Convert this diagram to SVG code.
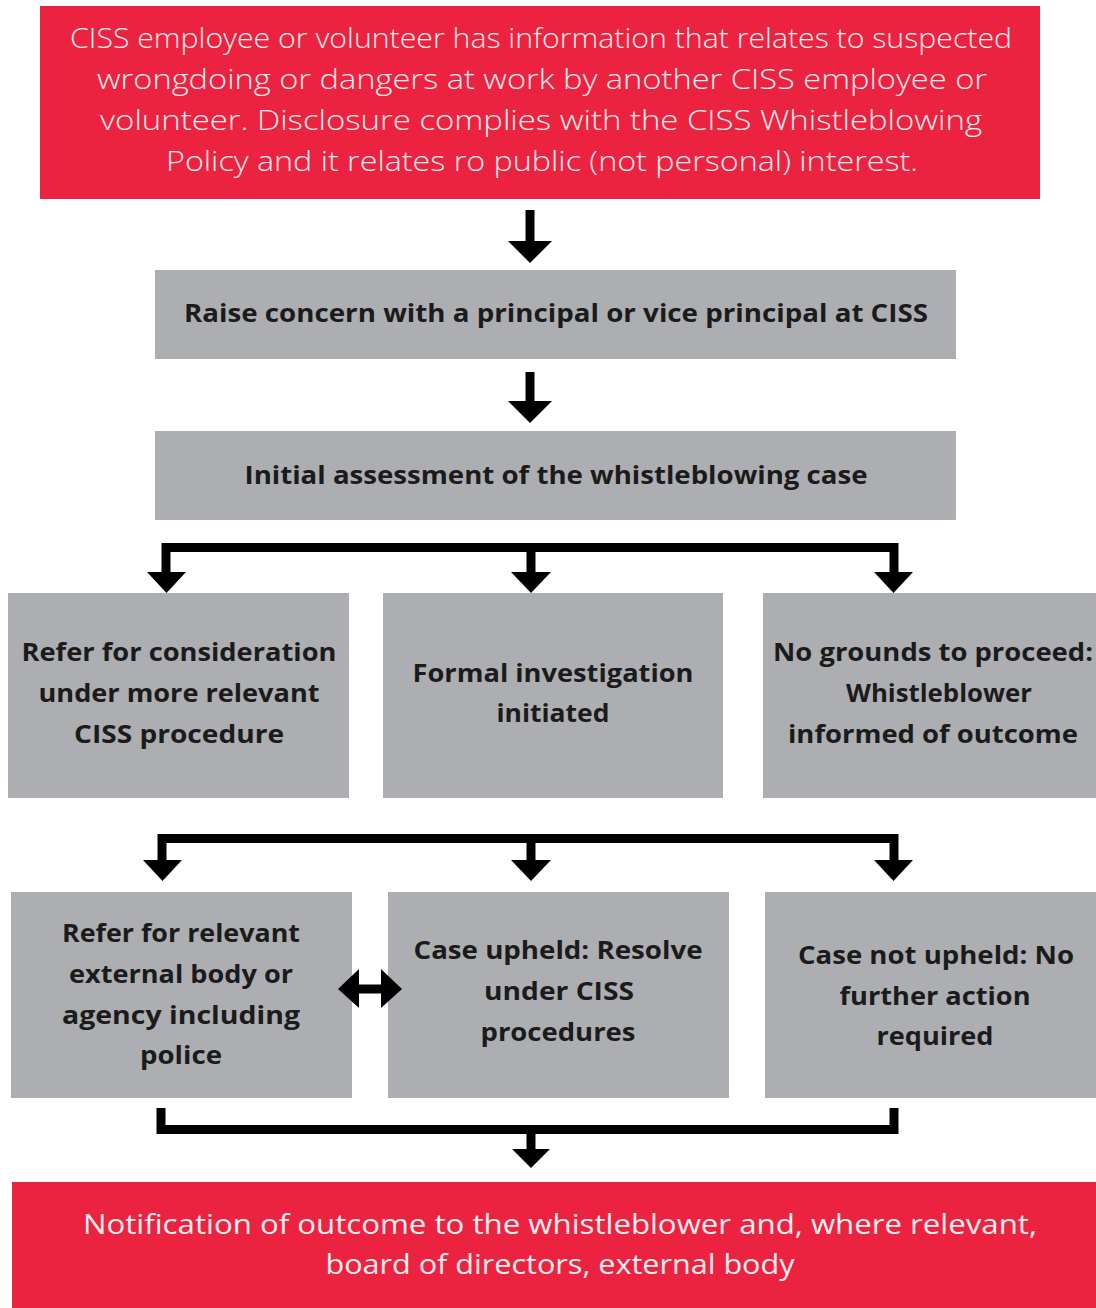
<svg xmlns="http://www.w3.org/2000/svg" width="1096" height="1308" viewBox="0 0 1096 1308">
  <style>
    .red { fill: #ec2340; }
    .grey { fill: #adaeb1; }
    .light { font-family: "Open Sans", "Liberation Sans", sans-serif; font-weight: 300; font-size: 28px; fill: #fbeef0; text-anchor: middle; }
    .foot { font-family: "Open Sans", "Liberation Sans", sans-serif; font-weight: 400; font-size: 28px; fill: #fbeef0; text-anchor: middle; }
    .bold { font-family: "Open Sans", "Liberation Sans", sans-serif; font-weight: 700; font-size: 25px; fill: #1b1b1b; text-anchor: middle; }
    .line { fill: none; stroke: #000; stroke-width: 9; stroke-linecap: butt; stroke-linejoin: miter; }
    .head { fill: #000; }
  </style>

  <rect width="1096" height="1308" fill="#ffffff"/>

  <!-- starting point -->
  <g id="start">
    <rect class="red" x="40" y="6" width="1000" height="193"/>
    <text class="light" x="541" y="48" textLength="942" lengthAdjust="spacingAndGlyphs">CISS employee or volunteer has information that relates to suspected</text>
    <text class="light" x="542" y="89" textLength="890" lengthAdjust="spacingAndGlyphs">wrongdoing or dangers at work by another CISS employee or</text>
    <text class="light" x="541" y="130" textLength="882" lengthAdjust="spacingAndGlyphs">volunteer. Disclosure complies with the CISS Whistleblowing</text>
    <text class="light" x="542" y="171" textLength="752" lengthAdjust="spacingAndGlyphs">Policy and it relates ro public (not personal) interest.</text>
  </g>

  <g id="raise">
    <rect class="grey" x="155" y="270" width="801" height="89"/>
    <text class="bold" x="556" y="322" textLength="744" lengthAdjust="spacingAndGlyphs">Raise concern with a principal or vice principal at CISS</text>
  </g>

  <g id="assess">
    <rect class="grey" x="155" y="431" width="801" height="89"/>
    <text class="bold" x="556" y="484" textLength="623" lengthAdjust="spacingAndGlyphs">Initial assessment of the whistleblowing case</text>
  </g>

  <!-- first set of outcomes -->
  <g id="refer-procedure">
    <rect class="grey" x="8" y="593" width="341" height="205"/>
    <text class="bold" x="179" y="661" textLength="315" lengthAdjust="spacingAndGlyphs">Refer for consideration</text>
    <text class="bold" x="179" y="702" textLength="281" lengthAdjust="spacingAndGlyphs">under more relevant</text>
    <text class="bold" x="179" y="743" textLength="210" lengthAdjust="spacingAndGlyphs">CISS procedure</text>
  </g>

  <g id="investigation">
    <rect class="grey" x="383" y="593" width="340" height="205"/>
    <text class="bold" x="553" y="682" textLength="281" lengthAdjust="spacingAndGlyphs">Formal investigation</text>
    <text class="bold" x="553" y="722" textLength="113" lengthAdjust="spacingAndGlyphs">initiated</text>
  </g>

  <g id="no-grounds">
    <rect class="grey" x="763" y="593" width="333" height="205"/>
    <text class="bold" x="933" y="661" textLength="320" lengthAdjust="spacingAndGlyphs">No grounds to proceed:</text>
    <text class="bold" x="939" y="702" textLength="186" lengthAdjust="spacingAndGlyphs">Whistleblower</text>
    <text class="bold" x="933" y="743" textLength="290" lengthAdjust="spacingAndGlyphs">informed of outcome</text>
  </g>

  <!-- investigation results -->
  <g id="refer-external">
    <rect class="grey" x="11" y="892" width="341" height="206"/>
    <text class="bold" x="181" y="942" textLength="238" lengthAdjust="spacingAndGlyphs">Refer for relevant</text>
    <text class="bold" x="181" y="983" textLength="224" lengthAdjust="spacingAndGlyphs">external body or</text>
    <text class="bold" x="181" y="1024" textLength="238" lengthAdjust="spacingAndGlyphs">agency including</text>
    <text class="bold" x="181" y="1064" textLength="82" lengthAdjust="spacingAndGlyphs">police</text>
  </g>

  <g id="upheld">
    <rect class="grey" x="388" y="892" width="341" height="206"/>
    <text class="bold" x="558" y="959" textLength="289" lengthAdjust="spacingAndGlyphs">Case upheld: Resolve</text>
    <text class="bold" x="559" y="1000" textLength="150" lengthAdjust="spacingAndGlyphs">under CISS</text>
    <text class="bold" x="558" y="1041" textLength="155" lengthAdjust="spacingAndGlyphs">procedures</text>
  </g>

  <g id="not-upheld">
    <rect class="grey" x="765" y="892" width="331" height="206"/>
    <text class="bold" x="936" y="964" textLength="276" lengthAdjust="spacingAndGlyphs">Case not upheld: No</text>
    <text class="bold" x="935" y="1005" textLength="191" lengthAdjust="spacingAndGlyphs">further action</text>
    <text class="bold" x="935" y="1045" textLength="117" lengthAdjust="spacingAndGlyphs">required</text>
  </g>

  <g id="notification">
    <rect class="red" x="12" y="1182" width="1084" height="126"/>
    <text class="foot" x="560" y="1234" textLength="954" lengthAdjust="spacingAndGlyphs">Notification of outcome to the whistleblower and, where relevant,</text>
    <text class="foot" x="560" y="1274" textLength="469" lengthAdjust="spacingAndGlyphs">board of directors, external body</text>
  </g>

  <!-- connectors -->
  <g id="connectors">
    <!-- start to raise -->
    <path class="line" d="M530,210 V243"/>
    <polygon class="head" points="508,241 552,241 530,263"/>
    <!-- raise to assess -->
    <path class="line" d="M530,372 V403"/>
    <polygon class="head" points="508,401 552,401 530,423"/>

    <!-- split after assessment -->
    <path class="line" d="M166,574 V547.5 H894 V574"/>
    <path class="line" d="M531,547 V574"/>
    <polygon class="head" points="147,572 186,572 166.5,593"/>
    <polygon class="head" points="511,572 551,572 531,593"/>
    <polygon class="head" points="874,572 913,572 893.5,593"/>

    <!-- split after investigation -->
    <path class="line" d="M162,862 V838.5 H894 V862"/>
    <path class="line" d="M531,838 V862"/>
    <polygon class="head" points="143,860 182,860 162.5,881"/>
    <polygon class="head" points="511,860 551,860 531,881"/>
    <polygon class="head" points="874,860 913,860 893.5,881"/>

    <!-- two-way link between external referral and upheld case -->
    <path class="line" d="M352,989 H388" stroke-width="8"/>
    <polygon class="head" points="338,989 359,969 359,1008"/>
    <polygon class="head" points="402,989 381,969 381,1008"/>

    <!-- merge into notification -->
    <path class="line" d="M161,1108 V1129.5 H894 V1108"/>
    <path class="line" d="M531,1129 V1151"/>
    <polygon class="head" points="512,1149 550,1149 531,1168"/>
  </g>
</svg>
